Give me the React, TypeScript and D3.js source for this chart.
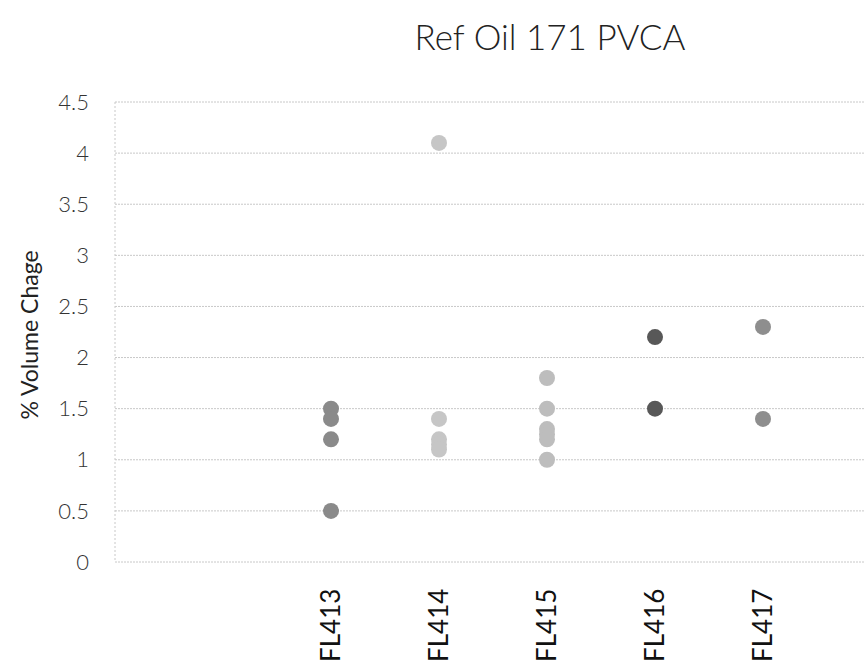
import React, { useRef, useEffect } from 'react';
import * as d3 from 'd3';

const categories = ['FL413', 'FL414', 'FL415', 'FL416', 'FL417'];
const fl413 = [1.5, 1.4, 1.2, 0.5];
const fl414 = [4.1, 1.4, 1.2, 1.15, 1.1];
const fl415 = [1.8, 1.5, 1.3, 1.25, 1.2, 1.0];
const fl416 = [2.2, 1.5];
const fl417 = [2.3, 1.4];
const seriesValues = [fl413, fl414, fl415, fl416, fl417];
const seriesColors = ['#8a8a8a', '#c6c6c6', '#bdbdbd', '#585858', '#8e8e8e'];
const yTicks = [0, 0.5, 1, 1.5, 2, 2.5, 3, 3.5, 4, 4.5];

const W = 865;
const H = 667;

export default function App() {
  const svgRef = useRef<SVGSVGElement>(null);

  useEffect(() => {
    const svg = d3.select(svgRef.current);
    svg.selectAll('*').remove();
    if (!svgRef.current) return;

    const font = 'Lato, "Open Sans", sans-serif';
    const left = 115;
    const top = 102;
    const bottom = 562;

    // categories sit at slots 2..6 of a 7-slot axis that runs past the right edge
    const x = d3.scaleLinear().domain([0, 7]).range([left, left + 108 * 7]);
    const y = d3.scaleLinear().domain([0, 4.5]).range([bottom, top]);

    svg.append('rect').attr('width', W).attr('height', H).attr('fill', 'white');

    // Title
    svg.append('text')
      .attr('x', 550).attr('y', 50)
      .attr('text-anchor', 'middle')
      .attr('font-family', font).attr('font-size', 35).attr('font-weight', 300)
      .attr('fill', '#222')
      .text('Ref Oil 171 PVCA');

    // Grid
    svg.selectAll('.grid').data(yTicks).enter()
      .append('line')
      .attr('x1', left).attr('x2', W)
      .attr('y1', (d) => y(d)).attr('y2', (d) => y(d))
      .attr('stroke', '#c8c8c8').attr('stroke-width', 1)
      .attr('stroke-dasharray', '2,1');

    // Left axis line
    svg.append('line')
      .attr('x1', left).attr('x2', left)
      .attr('y1', top).attr('y2', bottom)
      .attr('stroke', '#c8c8c8').attr('stroke-dasharray', '2,2');

    // Y tick labels
    svg.selectAll('.ytick').data(yTicks).enter()
      .append('text')
      .attr('x', 89).attr('y', (d) => y(d))
      .attr('dy', '0.35em')
      .attr('text-anchor', 'end')
      .attr('font-family', font).attr('font-size', 22).attr('font-weight', 300)
      .attr('fill', '#333')
      .text((d) => String(d));

    // Y axis title
    svg.append('text')
      .attr('transform', `translate(38,${(top + bottom) / 2 + 3}) rotate(-90)`)
      .attr('text-anchor', 'middle')
      .attr('font-family', font).attr('font-size', 23)
      .attr('fill', '#222')
      .text('% Volume Chage');

    // Dots
    seriesValues.forEach((vals, i) => {
      svg.selectAll(`.dot${i}`).data(vals).enter()
        .append('circle')
        .attr('cx', x(i + 2)).attr('cy', (d) => y(d))
        .attr('r', 8)
        .attr('fill', seriesColors[i]);
    });

    // X labels
    svg.selectAll('.xlab').data(categories).enter()
      .append('text')
      .attr('transform', (_d, i) => `translate(${x(i + 2) + 9},662) rotate(-90)`)
      .attr('text-anchor', 'start')
      .attr('font-family', font).attr('font-size', 26)
      .attr('fill', '#111')
      .text((d) => d);
  }, []);

  return (
    <svg
      ref={svgRef}
      width={W}
      height={H}
      style={{ position: 'absolute', left: 0, top: 0, display: 'block' }}
    />
  );
}
